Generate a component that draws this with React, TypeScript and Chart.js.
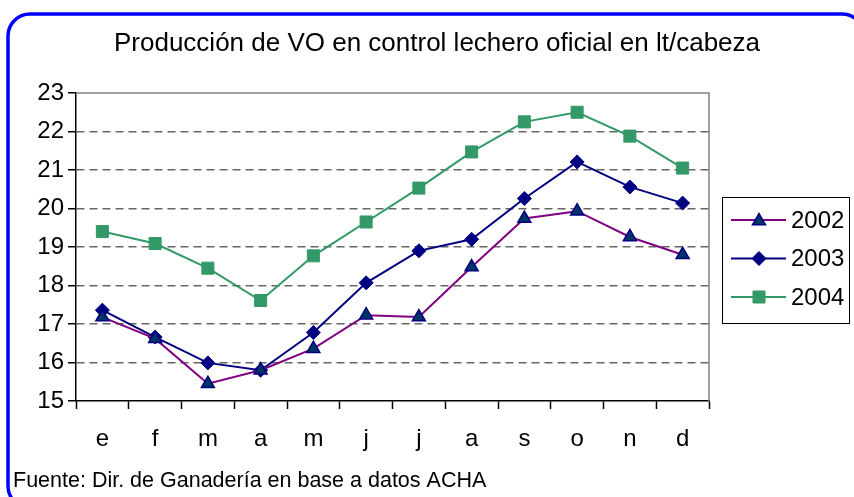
import React, { useEffect, useRef } from "react";
import { Chart, registerables } from "chart.js";
import { drawPoint } from "chart.js/helpers";

Chart.register(...registerables);

const TITLE = "Producción de VO en control lechero oficial en lt/cabeza";
const SOURCE = "Fuente: Dir. de Ganadería en base a datos ACHA";
const MONTHS = ["e", "f", "m", "a", "m", "j", "j", "a", "s", "o", "n", "d"];
const SERIES_NAMES = ["2002", "2003", "2004"];
const V2002 = [17.18, 16.62, 15.45, 15.8, 16.36, 17.23, 17.18, 18.48, 19.74, 19.93, 19.26, 18.8];
const V2003 = [17.36, 16.66, 15.99, 15.8, 16.78, 18.07, 18.9, 19.2, 20.26, 21.21, 20.56, 20.14];
const V2004 = [19.4, 19.09, 18.45, 17.61, 18.77, 19.65, 20.53, 21.47, 22.25, 22.5, 21.88, 21.05];
const Y_MIN = 15;
const Y_MAX = 23;

const FONT = "'Liberation Sans', Arial, sans-serif";

const decorPlugin = {
  id: "decor",
  beforeDraw(chart: any) {
    const ctx = chart.ctx;
    ctx.save();
    ctx.fillStyle = "#ffffff";
    ctx.fillRect(0, 0, chart.width, chart.height);
    ctx.restore();
  },
  afterDraw(chart: any) {
    const ctx = chart.ctx;
    const a = chart.chartArea;
    ctx.save();
    // plot frame top/right
    ctx.strokeStyle = "#808080";
    ctx.lineWidth = 1.5;
    ctx.beginPath();
    ctx.moveTo(a.left, a.top);
    ctx.lineTo(a.right, a.top);
    ctx.lineTo(a.right, a.bottom);
    ctx.stroke();

    // title
    ctx.fillStyle = "#000";
    ctx.font = `26px ${FONT}`;
    ctx.textAlign = "center";
    ctx.textBaseline = "middle";
    ctx.fillText(TITLE, 437, 44);

    // source
    ctx.font = `21.5px ${FONT}`;
    ctx.textAlign = "left";
    ctx.fillText(SOURCE, 13, 481);

    // legend
    const lx = 722, ly = 197, lw = 127, lh = 126;
    ctx.strokeStyle = "#000";
    ctx.lineWidth = 1;
    ctx.strokeRect(lx + 0.5, ly + 0.5, lw, lh);
    chart.data.datasets.forEach((ds: any, i: number) => {
      const cy = 220 + i * 38.5;
      ctx.strokeStyle = ds.borderColor;
      ctx.lineWidth = ds.borderWidth;
      ctx.beginPath();
      ctx.moveTo(731, cy);
      ctx.lineTo(786, cy);
      ctx.stroke();
      ctx.fillStyle = ds.pointBackgroundColor;
      ctx.strokeStyle = ds.pointBorderColor;
      ctx.lineWidth = ds.pointBorderWidth;
      drawPoint(
        ctx,
        { pointStyle: ds.pointStyle, rotation: 0, radius: ds.pointRadius, borderWidth: ds.pointBorderWidth } as any,
        759,
        cy + (ds.pointStyle === "triangle" ? 1 : 0)
      );
      ctx.fillStyle = "#000";
      ctx.font = `24px ${FONT}`;
      ctx.textAlign = "left";
      ctx.textBaseline = "middle";
      ctx.fillText(ds.label, 791, cy + 1);
    });

    // blue outer border
    ctx.strokeStyle = "#0000ff";
    ctx.lineWidth = 3.5;
    ctx.beginPath();
    ctx.roundRect(8, 14, 856, 494, 22);
    ctx.stroke();
    ctx.restore();
  },
};

export default function App() {
  const ref = useRef<HTMLCanvasElement>(null);
  useEffect(() => {
    if (!ref.current) return;
    const chart = new Chart(ref.current, {
      type: "line",
      data: {
        labels: MONTHS,
        datasets: [
          {
            label: SERIES_NAMES[0],
            data: V2002,
            borderColor: "#800080",
            borderWidth: 2,
            pointStyle: "triangle",
            pointRadius: 7.5,
            pointBackgroundColor: "#003366",
            pointBorderColor: "#000080",
            pointBorderWidth: 1.5,
          },
          {
            label: SERIES_NAMES[1],
            data: V2003,
            borderColor: "#000080",
            borderWidth: 2,
            pointStyle: "rectRot",
            pointRadius: 7,
            pointBackgroundColor: "#000080",
            pointBorderColor: "#000080",
            pointBorderWidth: 1,
          },
          {
            label: SERIES_NAMES[2],
            data: V2004,
            borderColor: "#339966",
            borderWidth: 2,
            pointStyle: "rect",
            pointRadius: 8.5,
            pointBackgroundColor: "#339966",
            pointBorderColor: "#339966",
            pointBorderWidth: 1,
          },
        ],
      } as any,
      options: {
        animation: false,
        responsive: false,
        devicePixelRatio: 1,
        layout: { padding: { left: 16, right: 145, top: 93, bottom: 36 } },
        plugins: {
          legend: { display: false },
          title: { display: false },
          tooltip: { enabled: false },
        },
        scales: {
          x: {
            offset: true,
            grid: {
              offset: true,
              drawOnChartArea: false,
              drawTicks: true,
              tickLength: 8,
              tickColor: "#000",
              tickWidth: 1.5,
            },
            border: { display: true, color: "#000", width: 1.5 },
            ticks: { color: "#000", font: { family: FONT, size: 24 }, padding: 16, maxRotation: 0 },
            afterFit: (s: any) => { s.height = 60; },
          },
          y: {
            min: Y_MIN,
            max: Y_MAX,
            grid: {
              color: (c: any) => (c.tick && (c.tick.value === Y_MIN || c.tick.value === Y_MAX) ? "rgba(0,0,0,0)" : "#666666"),
              lineWidth: 1.5,
              tickColor: "#000",
              tickWidth: 1.5,
              tickLength: 8,
              tickBorderDash: [],
            } as any,
            border: { display: true, color: "#000", width: 1.5, dash: [8, 5] } as any,
            ticks: { stepSize: 1, color: "#000", font: { family: FONT, size: 24 }, padding: 4 },
            afterFit: (s: any) => { s.width = 60; },
          },
        },
      } as any,
      plugins: [decorPlugin],
    });
    return () => chart.destroy();
  }, []);
  return (
    <div style={{ position: "fixed", left: 0, top: 0, width: 854, height: 497, overflow: "hidden", background: "#fff" }}>
      <canvas ref={ref} width={854} height={497} style={{ width: 854, height: 497, display: "block" }} />
    </div>
  );
}
